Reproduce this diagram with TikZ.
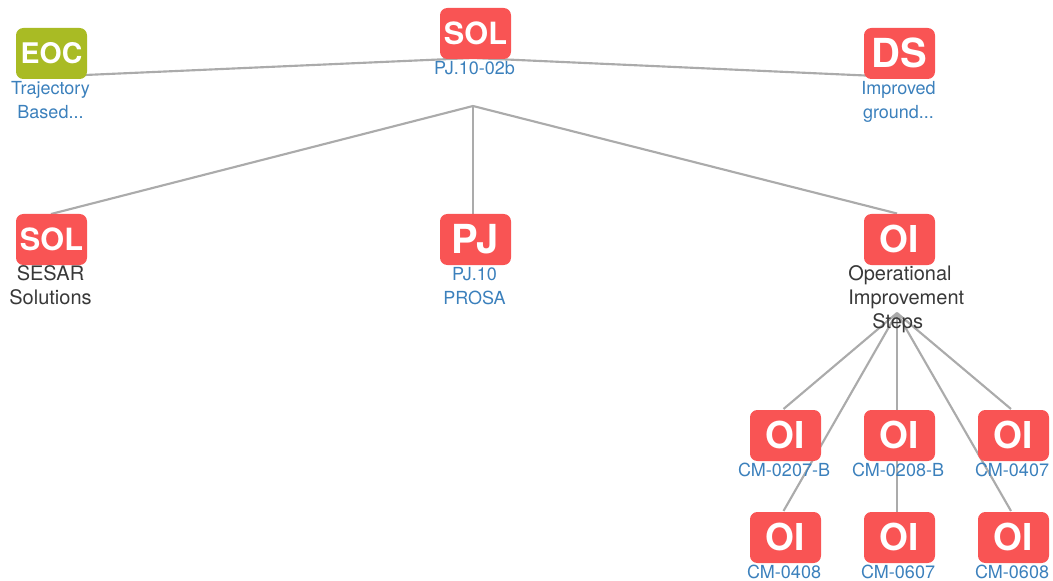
\documentclass[tikz,border=0pt]{standalone}
\usepackage{fontspec}
\setmainfont{TeX Gyre Heros}
\definecolor{redbox}{HTML}{F95454}
\definecolor{greenbox}{HTML}{A9BB24}
\definecolor{linkblue}{HTML}{3B80BC}
\definecolor{darktext}{HTML}{383838}
\definecolor{edgegrey}{HTML}{ABABAB}
\tikzset{
  px/.style={x=0.75pt,y=-0.75pt},
  tile/.style={rectangle,rounded corners=5.5pt,minimum width=53.25pt,minimum height=38.25pt,inner sep=0pt,text=white,font=\bfseries},
  redtile/.style={tile,fill=redbox},
  greentile/.style={tile,fill=greenbox},
  bigtext/.style={font=\bfseries\fontsize{27.8pt}{30pt}\selectfont},
  dstext/.style={font=\bfseries\fontsize{30pt}{32pt}\selectfont},
  midtext/.style={font=\bfseries\fontsize{23pt}{24pt}\selectfont},
  smalltext/.style={font=\bfseries\fontsize{21.3pt}{24pt}\selectfont},
  link/.style={draw=edgegrey,line width=1.6pt},
  bluelabel/.style={text=linkblue,inner sep=0pt,align=center,font=\fontsize{13.5pt}{18pt}\selectfont},
  darklabel/.style={text=darktext,inner sep=0pt,font=\fontsize{15pt}{18pt}\selectfont}
}
\begin{document}
\begin{tikzpicture}[px]
\useasboundingbox (0,0) rectangle (1053,581);
% connector ends
\coordinate (hubtop) at (473,58);
\coordinate (hubbelow) at (473,106);
\coordinate (eocend) at (51,76.5);
\coordinate (dsend) at (899,77);
\coordinate (solend) at (51,214);
\coordinate (pjend) at (473,214);
\coordinate (oiend) at (897,213.5);
\coordinate (oihub) at (897,313);
\coordinate (aend) at (783.5,409);
\coordinate (bend) at (897,410);
\coordinate (cend) at (1011,409);
\coordinate (dend) at (783.5,511);
\coordinate (eend) at (897,512);
\coordinate (fend) at (1011,511);
\draw[link] (eocend) -- (hubtop);
\draw[link] (dsend) -- (hubtop);
\draw[link] (hubbelow) -- (solend);
\draw[link] (hubbelow) -- (pjend);
\draw[link] (hubbelow) -- (oiend);
\draw[link] (oihub) -- (aend);
\draw[link] (oihub) -- (bend);
\draw[link] (oihub) -- (cend);
\draw[link] (oihub) -- (dend);
\draw[link] (oihub) -- (eend);
\draw[link] (oihub) -- (fend);
% tiles
\node[greentile,smalltext] (eoc) at (51.5,53.5) {\raisebox{1.2pt}{EOC}};
\node[redtile,midtext] (sol) at (475.5,33.5) {\raisebox{1.2pt}{SOL}};
\node[redtile,dstext] (ds) at (899.5,53.5) {\raisebox{1.2pt}{DS}};
\node[redtile,midtext] (solb) at (51.5,239.5) {\raisebox{1.2pt}{SOL}};
\node[redtile,dstext] (pj) at (475.5,239.5) {\raisebox{1.2pt}{PJ}};
\node[redtile,bigtext] (oi) at (899.5,239.5) {\raisebox{1.2pt}{OI}};
\node[redtile,bigtext] (oia) at (785.5,435.5) {\raisebox{1.2pt}{OI}};
\node[redtile,bigtext] (oib) at (899.5,435.5) {\raisebox{1.2pt}{OI}};
\node[redtile,bigtext] (oic) at (1013.5,435.5) {\raisebox{1.2pt}{OI}};
\node[redtile,bigtext] (oid) at (785.5,537.5) {\raisebox{1.2pt}{OI}};
\node[redtile,bigtext] (oie) at (899.5,537.5) {\raisebox{1.2pt}{OI}};
\node[redtile,bigtext] (oif) at (1013.5,537.5) {\raisebox{1.2pt}{OI}};
% labels
\node[bluelabel] (leoc) at (50.5,100) {Trajectory\\Based...};
\node[bluelabel] (lsol) at (474.5,68) {PJ.10-02b};
\node[bluelabel] (lds) at (898.5,102) {Improved\\ground...};
\node[darklabel,align=center] (lsolb) at (50.5,285) {SESAR\\Solutions};
\node[bluelabel] (lpj) at (474.5,286) {PJ.10\\PROSA};
\node[darklabel,align=left,anchor=north west] (loi) at (848,265) {Operational\\Improvement\\\hspace{18pt}Steps};
\node[bluelabel] (loia) at (784,470) {CM-0207-B};
\node[bluelabel] (loib) at (898,470) {CM-0208-B};
\node[bluelabel] (loic) at (1012,470) {CM-0407};
\node[bluelabel] (loid) at (784,572) {CM-0408};
\node[bluelabel] (loie) at (898,572) {CM-0607};
\node[bluelabel] (loif) at (1012,572) {CM-0608};
\end{tikzpicture}
\end{document}
